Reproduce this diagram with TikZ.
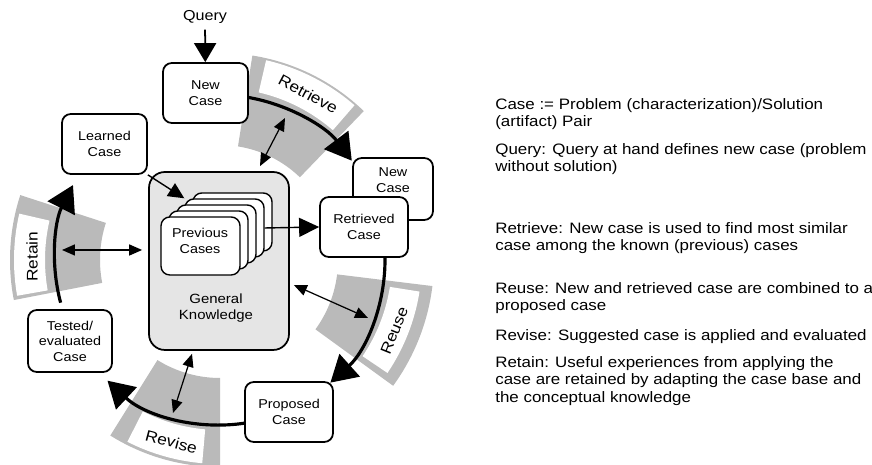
\documentclass[tikz,border=0pt]{standalone}
\usepackage{fontspec}
\setmainfont{Liberation Sans}[FakeStretch=1.12]
\usetikzlibrary{arrows.meta}

\tikzset{
  casebox/.style={draw, line width=1pt, rounded corners=5pt, fill=white, align=center,
    minimum width=1.7cm, minimum height=1.2cm, font=\fontsize{7.3}{8.8}\selectfont},
  prevbox/.style={draw, line width=0.8pt, rounded corners=5pt, fill=white,
    minimum width=1.58cm, minimum height=1.16cm},
  gkbox/.style={draw, line width=1pt, rounded corners=9pt, fill=black!10,
    minimum width=2.8cm, minimum height=3.56cm},
  band/.style={fill=black!27},
  strip/.style={fill=white},
  phase/.style={font=\fontsize{8.8}{10}\selectfont},
  cyc/.style={line width=1.8pt, -{Triangle[length=0.52cm,width=0.6cm]}},
  link/.style={line width=0.7pt, {Triangle[length=0.26cm,width=0.22cm]}-{Triangle[length=0.26cm,width=0.22cm]}},
  feed/.style={line width=0.8pt, -{Triangle[length=0.32cm,width=0.3cm]}},
  note/.style={anchor=north west, inner sep=0pt, align=left, font=\fontsize{8.6}{9.9}\selectfont},
}

\begin{document}
\begin{tikzpicture}[x=0.02cm, y=0.02cm]
  \useasboundingbox (0,0) rectangle (872,465);

  % phase bands round the cycle
  \begin{scope}[shift={(220,205)}]
    \foreach \a/\b/\ri/\ro/\c/\d/\wi/\wo/\lab/\la/\rot in {
        46/81/115/207/49/77/172/205/Retrieve/62/-28,
        -36/-7/118/214/-34/-9/172/202/Reuse/-22/68,
        -122/-90/118/207/-117/-95/170/204/Revise/-105/-15,
        162/191/120/210/167/190/175/206/Retain/179/90}
    {
      \fill[band] (\a:\ri) arc[start angle=\a, end angle=\b, radius=\ri]
        -- (\b:\ro) arc[start angle=\b, end angle=\a, radius=\ro] -- cycle;
      \fill[strip] (\c:\wi) arc[start angle=\c, end angle=\d, radius=\wi]
        -- (\d:\wo) arc[start angle=\d, end angle=\c, radius=\wo] -- cycle;
      \node[phase, rotate=\rot] (ph-\lab) at (\la:188) {\lab};
    }
    \coordinate (retS) at (80:165);
    \coordinate (reuS) at (1:165);
    \coordinate (revS) at (-81:165);
    \coordinate (rtnS) at (195:165);
  \end{scope}

  % knowledge base
  \node[gkbox] (gk) at (219,204) {};
  \node[align=center, font=\fontsize{7.6}{9}\selectfont] (gktext) at (216,157) {General\\Knowledge};
  \foreach \i in {4,3,2,1,0}
    \node[prevbox] (prev\i) at ({200.5+8*\i},{219+6*\i}) {};
  \node[align=center, font=\fontsize{7.3}{8.8}\selectfont] (prevtext) at (200,224) {Previous\\Cases};

  % links to the knowledge
  \coordinate (kRet) at (285,347);
  \coordinate (kReu) at (368,147);
  \coordinate (kRev) at (173,52);
  \coordinate (kRtn) at (62,215);
  \draw[link] (kRet) -- ([shift={(41,5)}]gk.north);
  \draw[link] ([shift={(4,-24)}]gk.east) -- (kReu);
  \draw[link] ([shift={(-27,-3)}]gk.south) -- (kRev);
  \draw[link, line width=0.9pt] (kRtn) -- ([shift={(-6,11)}]gk.west);

  % the cycle
  \draw[cyc] (retS) arc[start angle=80, end angle=37, radius=165];
  \draw[cyc] (reuS) arc[start angle=1, end angle=-48, radius=165];
  \draw[cyc] (revS) arc[start angle=-81, end angle=-133, radius=165];
  \draw[cyc] (rtnS) arc[start angle=195, end angle=153, radius=165];

  % cases
  \node[font=\fontsize{8.2}{10}\selectfont] (query) at (205,448) {Query};
  \node[casebox] (newcase) at (205.5,372) {New\\Case};
  \node[casebox] (learned) at (104.5,321) {Learned\\Case};
  \node[casebox, minimum width=1.6cm, minimum height=1.24cm] (newcase2) at (393,276) {};
  \node[align=center, font=\fontsize{7.3}{8.8}\selectfont] (newcase2text) at (393,285) {New\\Case};
  \node[casebox, minimum width=1.76cm] (retrieved) at (364,238) {Retrieved\\Case};
  \node[casebox, minimum width=1.68cm, minimum height=1.24cm] (tested) at (70,124) {Tested/\\evaluated\\Case};
  \node[casebox, minimum width=1.76cm] (proposed) at (289,53) {Proposed\\Case};

  \draw[line width=1pt, -{Triangle[length=0.38cm,width=0.44cm]}] (query) -- (newcase);
  \draw[feed, -{Triangle[length=0.4cm,width=0.38cm]}] (prev3.east) -- (retrieved.west);
  \draw[feed] (learned.south east) -- (prev3.north west);

  % explanations
  \node[note] (n-case) at (495,367) {Case := Problem (characterization)/Solution\\(artifact) Pair};
  \node[note] (n-query) at (495,322) {Query: Query at hand defines new case (problem\\without solution)};
  \node[note] (n-retrieve) at (495,243) {Retrieve: New case is used to find most similar\\case among the known (previous) cases};
  \node[note] (n-reuse) at (495,183) {Reuse: New and retrieved case are combined to a\\proposed case};
  \node[note] (n-revise) at (495,136) {Revise: Suggested case is applied and evaluated};
  \node[note] (n-retain) at (495,109) {Retain: Useful experiences from applying the\\case are retained by adapting the case base and\\the conceptual knowledge};
\end{tikzpicture}
\end{document}
